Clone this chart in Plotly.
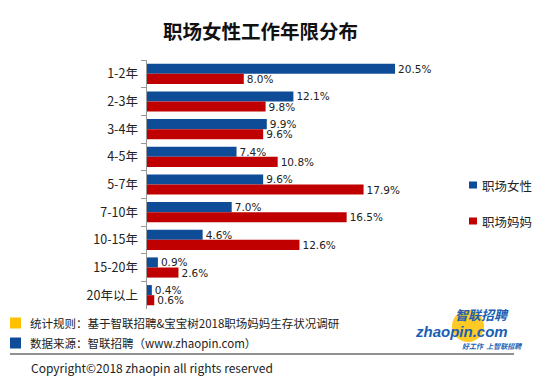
import plotly.graph_objects as go

categories = ["1-2年", "2-3年", "3-4年", "4-5年", "5-7年", "7-10年", "10-15年", "15-20年", "20年以上"]
women = [20.5, 12.1, 9.9, 7.4, 9.6, 7.0, 4.6, 0.9, 0.4]
moms = [8.0, 9.8, 9.6, 10.8, 17.9, 16.5, 12.6, 2.6, 0.6]
series_names = ["职场女性", "职场妈妈"]

# page body has an 8px margin; lay out in page pixels and shift
OFF = 8
W, H = 554 - OFF, 381 - OFF
L_PX, R_PX, T_PX, B_PX = 147, 454, 60, 309   # plot area in page pixels
ML, MT = L_PX - OFF, T_PX - OFF
MR = W - (R_PX - OFF)
MB = H - (B_PX - OFF)
PW, PH = W - ML - MR, H - MT - MB

BLUE = "#0F4C98"
RED = "#C00000"
FONT = "Noto Sans CJK SC"

def px(x):
    return (x - OFF - ML) / PW

def py(y):
    return (H - MB - (y - OFF)) / PH

fig = go.Figure()
for name, vals, col in [(series_names[0], women, BLUE), (series_names[1], moms, RED)]:
    fig.add_trace(go.Bar(
        y=categories, x=vals, name=name, orientation="h",
        marker=dict(color=col, line=dict(width=0)),
        text=[f"{v:.1f}%" for v in vals], textposition="outside", constraintext="none",
        textfont=dict(size=10.5, color="#222", family="DejaVu Sans"),
        cliponaxis=False, showlegend=False,
    ))

shapes = []
annotations = []

annotations.append(dict(x=px(260), y=py(30), xref="paper", yref="paper", text="<b>职场女性工作年限分布</b>",
                        showarrow=False, font=dict(size=19.5, color="#111", family=FONT), xanchor="center", yanchor="middle"))

for i, (name, col) in enumerate(zip(series_names, [BLUE, RED])):
    yc = 185 + 36 * i
    shapes.append(dict(type="rect", xref="paper", yref="paper", x0=px(469), x1=px(477), y0=py(yc - 3.5), y1=py(yc + 3.5),
                       fillcolor=col, line=dict(width=0)))
    annotations.append(dict(x=px(480), y=py(yc), xref="paper", yref="paper", text=name, showarrow=False,
                            font=dict(size=12.5, color="#222", family=FONT), xanchor="left", yanchor="middle"))

footer = [("#FFC000", 323, "统计规则：基于智联招聘&宝宝树2018职场妈妈生存状况调研"),
          ("#0F4C98", 343, "数据来源：智联招聘（www.zhaopin.com）")]
for col, yc, txt in footer:
    shapes.append(dict(type="rect", xref="paper", yref="paper", x0=px(10), x1=px(21), y0=py(yc - 5.5), y1=py(yc + 5.5),
                       fillcolor=col, line=dict(width=0)))
    annotations.append(dict(x=px(28), y=py(yc), xref="paper", yref="paper", text=txt, showarrow=False,
                            font=dict(size=11.5, color="#222", family=FONT), xanchor="left", yanchor="middle"))
shapes.append(dict(type="line", xref="paper", yref="paper", x0=px(10), x1=px(514), y0=py(354), y1=py(354),
                   line=dict(color="#222", width=1)))
annotations.append(dict(x=px(29), y=py(367), xref="paper", yref="paper", text="Copyright©2018 zhaopin all rights reserved",
                        showarrow=False, font=dict(size=12, color="#222", family=FONT), xanchor="left", yanchor="middle"))

# logo
shapes.append(dict(type="circle", xref="paper", yref="paper", x0=px(452), x1=px(484), y0=py(342), y1=py(310),
                   fillcolor="#FFC000", line=dict(width=0), opacity=0.85))
annotations.append(dict(x=px(511), y=py(314), xref="paper", yref="paper", text="<b><i>智联招聘</i></b>", showarrow=False,
                        font=dict(size=13, color="#1A5FB4", family=FONT), xanchor="right", yanchor="middle"))
annotations.append(dict(x=px(510), y=py(331), xref="paper", yref="paper", text="<b><i>zhaopin.com</i></b>", showarrow=False,
                        font=dict(size=15, color="#1A5FB4", family="Liberation Sans"), xanchor="right", yanchor="middle"))
annotations.append(dict(x=px(492), y=py(346), xref="paper", yref="paper", text="<b><i>好工作  上智联招聘</i></b>", showarrow=False,
                        font=dict(size=7, color="#1A5FB4", family=FONT), xanchor="center", yanchor="middle"))

fig.update_layout(
    width=W, height=H, margin=dict(l=ML, r=MR, t=MT, b=MB, pad=0),
    paper_bgcolor="white", plot_bgcolor="white",
    barmode="group", bargap=0.27, bargroupgap=0,
    font=dict(family=FONT, color="#222"),
    xaxis=dict(range=[0, PW / 12.1], visible=False, showgrid=False, zeroline=False),
    yaxis=dict(autorange="reversed", showline=True, linecolor="#999", linewidth=1,
               ticks="outside", ticklen=5, tickcolor="#999", tickson="boundaries",
               tickfont=dict(size=12.5, color="#222", family=FONT), ticksuffix="  ", showgrid=False),
    shapes=shapes, annotations=annotations,
)

fig.write_html("out.html")
